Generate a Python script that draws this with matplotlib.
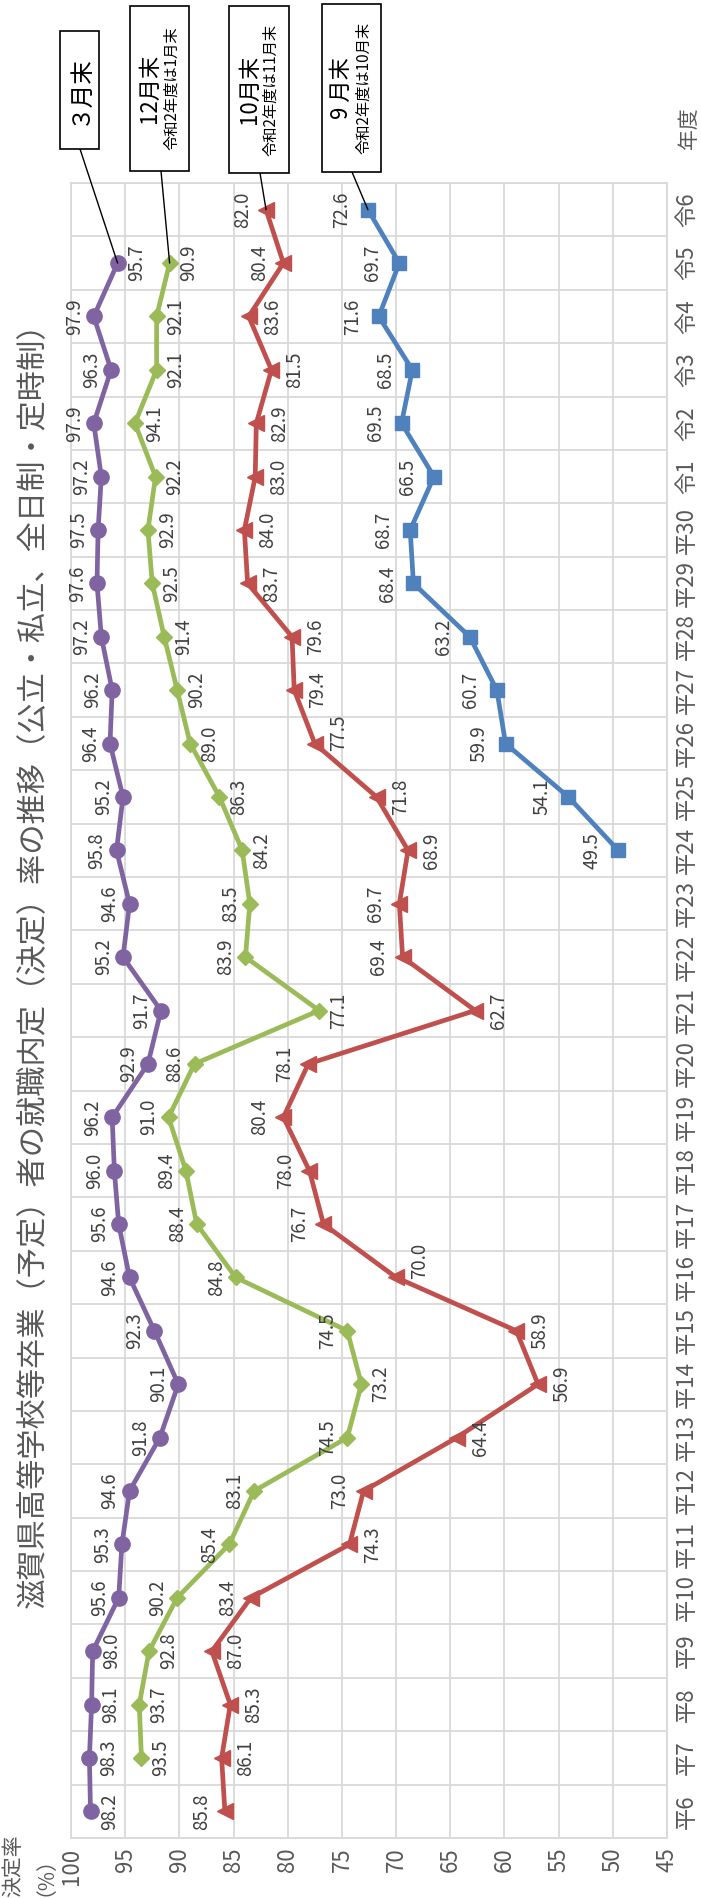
import numpy as np
import matplotlib.pyplot as plt
from matplotlib.patches import Rectangle

plt.rcParams['font.family'] = ['Noto Sans CJK JP', 'DejaVu Sans']

# 年度（平成6年度～令和6年度）
years = ['平' + str(n) for n in range(6, 31)] + ['令' + str(n) for n in range(1, 7)]

# 3月末（平6～令5）
rate_mar = [98.2, 98.3, 98.1, 98.0, 95.6, 95.3, 94.6, 91.8, 90.1, 92.3,
            94.6, 95.6, 96.0, 96.2, 92.9, 91.7, 95.2, 94.6, 95.8, 95.2,
            96.4, 96.2, 97.2, 97.6, 97.5, 97.2, 97.9, 96.3, 97.9, 95.7]
# 12月末（平7～令5）
rate_dec = [93.5, 93.7, 92.8, 90.2, 85.4, 83.1, 74.5, 73.2, 74.5, 84.8,
            88.4, 89.4, 91.0, 88.6, 77.1, 83.9, 83.5, 84.2, 86.3, 89.0,
            90.2, 91.4, 92.5, 92.9, 92.2, 94.1, 92.1, 92.1, 90.9]
# 10月末（平6～令6）
rate_oct = [85.8, 86.1, 85.3, 87.0, 83.4, 74.3, 73.0, 64.4, 56.9, 58.9,
            70.0, 76.7, 78.0, 80.4, 78.1, 62.7, 69.4, 69.7, 68.9, 71.8,
            77.5, 79.4, 79.6, 83.7, 84.0, 83.0, 82.9, 81.5, 83.6, 80.4, 82.0]
# 9月末（平24～令6）
rate_sep = [49.5, 54.1, 59.9, 60.7, 63.2, 68.4, 68.7, 66.5, 69.5, 68.5,
            71.6, 69.7, 72.6]

W, H = 701, 1898


def fx(x):
    return x / W


def fy(y):
    return 1 - y / H


fig = plt.figure(figsize=(W / 100, H / 100), dpi=100)
ax = fig.add_axes([fx(71), fy(1838), (667 - 71) / W, (1838 - 183) / H])

n = len(years)
ax.set_xlim(100, 45)
ax.set_ylim(-0.5, n - 0.5)

grid_c = '#d9d9d9'
for v in range(45, 101, 5):
    ax.axvline(v, color=grid_c, lw=1.3, zorder=0)
for k in range(n + 1):
    ax.axhline(k - 0.5, color=grid_c, lw=1.3, zorder=0)
for s in ax.spines.values():
    s.set_color(grid_c)
    s.set_linewidth(1.3)

ax.set_xticks(range(100, 44, -5))
ax.set_xticklabels([str(v) for v in range(100, 44, -5)], rotation=90,
                   fontsize=16, color='#595959')
ax.set_yticks(range(n))
ax.set_yticklabels(years, rotation=90, fontsize=16, color='#595959', va='center')
ax.yaxis.tick_right()
ax.tick_params(axis='both', length=0)
ax.tick_params(axis='x', pad=7)
ax.tick_params(axis='y', pad=6)

series = [
    (rate_mar, 0, '#8064a2', 'o', 11, 'RRRR' + 'L' * 25 + 'R', 14),
    (rate_dec, 1, '#9bbb59', 'D', 8, 'RRRLLLLRLLLLLLRLL' + 'R' * 12, 14),
    (rate_oct, 0, '#c0504d', '<', 11, 'LRRRLRLRRRRLLLLRLL' + 'R' * 11 + 'LL', 17),
    (rate_sep, 18, '#4f81bd', 's', 10, 'L' * 13, 19),
]

# 個別に位置をずらすラベル
shift = {('#c0504d', 10): 12, ('#c0504d', 20): 8}

for vals, start, col, mk, ms, sides, off in series:
    idx = np.arange(start, start + len(vals))
    ax.plot(vals, idx, color=col, lw=3.4, marker=mk, ms=ms, zorder=3,
            solid_joinstyle='round')
    for i, v, sd in zip(idx, vals, sides):
        dx = off if sd == 'R' else -off
        dy = shift.get((col, i), 0)
        ax.annotate(f'{v:.1f}', (v, i), xytext=(dx, dy), textcoords='offset points',
                    rotation=90, ha='center', va='center', fontsize=13.5,
                    color='#404040', zorder=4)

# タイトル・軸見出し
fig.text(fx(33), fy(958), '滋賀県高等学校等卒業（予定）者の就職内定（決定）率の推移（公立・私立、全日制・定時制）',
         rotation=90, ha='center', va='center', fontsize=21.8, color='#595959')
fig.text(fx(24), fy(1866), '決定率\n（%）', rotation=90, ha='center', va='center',
         fontsize=15, color='#595959', linespacing=0.95)
fig.text(fx(689), fy(128), '年度', rotation=90, ha='center', va='center',
         fontsize=15, color='#595959')

# 凡例の吹き出し
boxes = [
    ((60, 31, 99, 149), '３月末', None, rate_mar, 0, (80, 149)),
    ((130, 6, 189, 171), '12月末', '令和2年度は1月末', rate_dec, 1, (161, 171)),
    ((229, 6, 289, 173), '10月末', '令和2年度は11月末', rate_oct, 0, (260, 173)),
    ((322, 4, 381, 172), '9 月末', '令和2年度は10月末', rate_sep, 18, (352, 172)),
]
for (x0, y0, x1, y1), main, sub, vals, start, (lx, ly) in boxes:
    fig.patches.append(Rectangle((fx(x0), fy(y1)), (x1 - x0) / W, (y1 - y0) / H,
                                 transform=fig.transFigure, facecolor='white',
                                 edgecolor='black', lw=1.2, zorder=5))
    cx, cy = (x0 + x1) / 2, (y0 + y1) / 2
    if sub is None:
        fig.text(fx(cx), fy(cy), main, rotation=90, ha='center', va='center',
                 fontsize=17, color='black', zorder=6)
    else:
        fig.text(fx(cx - 10), fy(cy), main, rotation=90, ha='center', va='center',
                 fontsize=16, color='black', zorder=6)
        fig.text(fx(cx + 12), fy(cy), sub, rotation=90, ha='center', va='center',
                 fontsize=11, color='black', zorder=6)
    last = start + len(vals) - 1
    ax.annotate('', xy=(vals[-1], last), xytext=(fx(lx), fy(ly)),
                textcoords='figure fraction', annotation_clip=False,
                arrowprops=dict(arrowstyle='-', color='black', lw=1,
                                shrinkA=0, shrinkB=0), zorder=5)

fig.savefig('out.png', dpi=100)
